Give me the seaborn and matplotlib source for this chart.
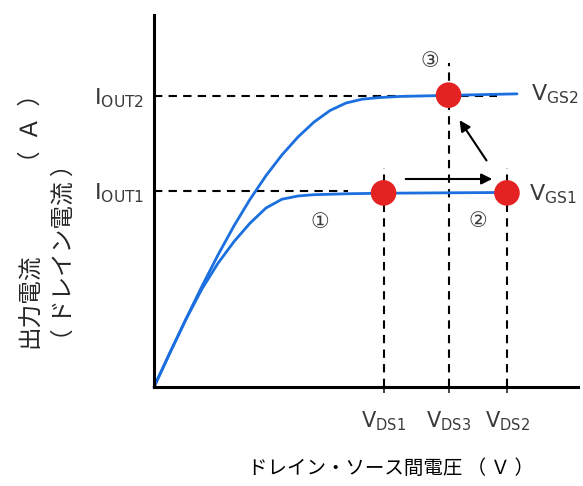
import numpy as np
import pandas as pd
import seaborn as sns
from matplotlib import pyplot as plt

# curves (x: V_DS, y: I_OUT, arbitrary units)
vgs2_x = [0, 1.345, 2.689, 4.034, 5.378, 6.723, 8.067, 9.412, 10.756, 12.101, 13.445, 14.790, 16.134, 17.479, 18.824, 20.672, 24.874, 30.504]
vgs2_y = [0, 0.743, 1.469, 2.177, 2.851, 3.479, 4.050, 4.562, 5.011, 5.397, 5.719, 5.968, 6.130, 6.212, 6.246, 6.272, 6.296, 6.328]
vgs1_x = [0, 1.345, 2.689, 4.034, 5.378, 6.723, 8.067, 9.412, 10.756, 12.101, 13.445, 16.471, 19.832, 29.328]
vgs1_y = [0, 0.743, 1.462, 2.119, 2.672, 3.139, 3.536, 3.864, 4.054, 4.123, 4.151, 4.173, 4.184, 4.199]

# operating points 1, 2, 3
pt_x = [19.29, 29.66, 24.75]
pt_y = [4.19, 4.19, 6.30]
pt_names = ["①", "②", "③"]
pt_label_x = [13.95, 27.23, 23.19]
pt_label_y = [3.56, 3.59, 7.04]

iout = [4.24, 6.29]
iout_labels = [r"$\mathregular{I_{OUT1}}$", r"$\mathregular{I_{OUT2}}$"]
iout_ends = [16.3, 28.8]
vds = [19.29, 24.75, 29.66]
vds_labels = [r"$\mathregular{V_{DS1}}$", r"$\mathregular{V_{DS3}}$", r"$\mathregular{V_{DS2}}$"]
vds_tops = [4.73, 7.0, 4.73]
vgs_labels = [r"$\mathregular{V_{GS1}}$", r"$\mathregular{V_{GS2}}$"]

BLUE = "#1b6fde"
RED = "#e52222"
GREY = "#3a3a3a"

sns.set_theme(style="white")
plt.rcParams['font.family'] = ['DejaVu Sans', 'Noto Sans CJK JP']
plt.rcParams['mathtext.fontset'] = 'custom'

fig = plt.figure(figsize=(5.83, 4.86), dpi=100)
ax = fig.add_axes([154/583, 99/486, 424/583, 372/486])

df = pd.concat([
	pd.DataFrame({"vds": vgs1_x, "id": vgs1_y, "curve": "VGS1"}),
	pd.DataFrame({"vds": vgs2_x, "id": vgs2_y, "curve": "VGS2"}),
])
sns.lineplot(data=df, x="vds", y="id", hue="curve", palette=[BLUE, BLUE], sort=False,
	lw=2.0, legend=False, ax=ax, clip_on=False)

# dashed guide lines
dash = (0, (4, 3))
ax.hlines(iout, 0, iout_ends, colors="black", linestyles=dash, lw=1.5, zorder=1)
ax.vlines(vds, 0, vds_tops, colors="black", linestyles=dash, lw=1.5, zorder=1)

sns.scatterplot(x=pt_x, y=pt_y, s=340, color=RED, edgecolor="none", zorder=5, ax=ax, clip_on=False)
for name, lx, ly in zip(pt_names, pt_label_x, pt_label_y):
	ax.text(lx, ly, name, fontsize=15, color=GREY, ha="center", va="center",
		family=['DejaVu Sans', 'Noto Sans CJK JP'])

# arrows 1->2 and 2->3
ax.annotate("", xy=(28.66, 4.49), xytext=(20.92, 4.49),
	arrowprops=dict(arrowstyle="-|>", color="black", lw=1.5, mutation_scale=16))
ax.annotate("", xy=(25.55, 5.81), xytext=(28.07, 4.84),
	arrowprops=dict(arrowstyle="-|>", color="black", lw=1.5, mutation_scale=16))

ax.text(31.5, 4.17, vgs_labels[0], fontsize=16, color=GREY, ha="left", va="center")
ax.text(31.7, 6.31, vgs_labels[1], fontsize=16, color=GREY, ha="left", va="center")

ax.set_xlim(0, 35.63)
ax.set_ylim(0, 8.03)
ax.set_xticks(vds, vds_labels)
ax.set_yticks(iout, iout_labels)
ax.tick_params(axis="x", direction="out", length=4, width=1.2, pad=12, labelsize=15, labelcolor=GREY, bottom=True)
ax.tick_params(axis="y", direction="in", length=4, width=1.2, pad=7, labelsize=16, labelcolor=GREY, left=True)
ax.set_xlabel("")
ax.set_ylabel("")
sns.despine(ax=ax)
for sp in ["left", "bottom"]:
	ax.spines[sp].set_linewidth(2.2)
	ax.spines[sp].set_color("black")

jp = ['Noto Sans CJK JP', 'DejaVu Sans']
fig.text(391/583, 1 - 468/486, "ドレイン・ソース間電圧 （ Ｖ ）", fontsize=14, color="black",
	ha="center", va="center", family=jp)
fig.text(31/583, 1 - 348/486, "出力電流", fontsize=17, rotation=90, ha="center", va="bottom", family=jp)
fig.text(31/583, 1 - 82/486, "（  Ａ  ）", fontsize=17, rotation=90, ha="center", va="top", family=jp)
fig.text(64/583, 1 - 352/486, "（ ドレイン電流 ）", fontsize=17, rotation=90, ha="center", va="bottom", family=jp)

fig.savefig("out.png", dpi=100)
